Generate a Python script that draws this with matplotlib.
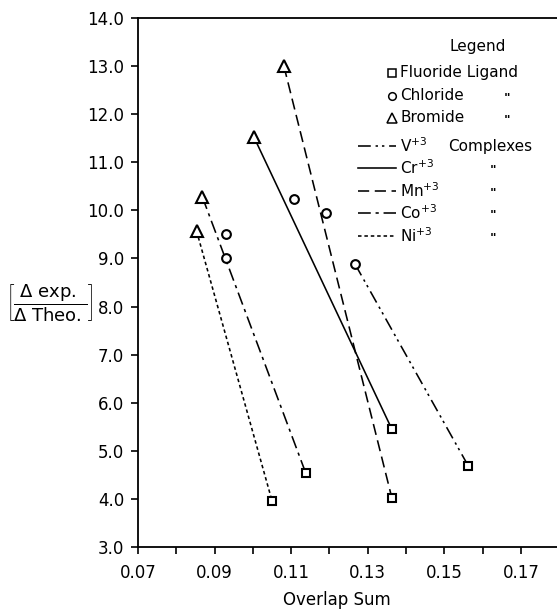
import matplotlib
matplotlib.use("Agg")
import matplotlib.pyplot as plt
from matplotlib.lines import Line2D

plt.rcParams['font.family'] = ['DejaVu Sans']
plt.rcParams['mathtext.fontset'] = 'custom'
plt.rcParams['mathtext.rm'] = 'DejaVu Sans'
plt.rcParams['mathtext.it'] = 'DejaVu Sans'

# ---- data ----
metals = ['V', 'Cr', 'Mn', 'Co', 'Ni']
fluoride_x = [0.1563, 0.1363, 0.1363, 0.1138, 0.1050]
fluoride_y = [4.68, 5.45, 4.02, 4.54, 3.96]
chloride_x = [0.1267, 0.1107, 0.1192, 0.0931, 0.0931]
chloride_y = [8.88, 10.23, 9.94, 9.01, 9.51]
bromide_x = [None, 0.1003, 0.1081, 0.0868, 0.0853]
bromide_y = [None, 11.52, 13.00, 10.28, 9.57]
x_ticks = [0.07, 0.09, 0.11, 0.13, 0.15, 0.17]
x_minor = [0.08, 0.10, 0.12, 0.14, 0.16]
y_ticks = [3.0, 4.0, 5.0, 6.0, 7.0, 8.0, 9.0, 10.0, 11.0, 12.0, 13.0, 14.0]

styles = {
    'V': (0, (8, 3, 1.5, 2.5, 1.5, 3)),
    'Cr': '-',
    'Mn': (0, (7, 3.5)),
    'Co': (0, (8, 3, 2, 3)),
    'Ni': (0, (2.2, 1.8)),
}

fig = plt.figure(figsize=(5.57, 6.10), dpi=100)
ax = fig.add_axes([138/557, 1-547/610, 1-138/557, 529/610])

lw = 1.15
for i, m in enumerate(metals):
    if bromide_x[i] is not None:
        sx, sy = bromide_x[i], bromide_y[i]
    else:
        sx, sy = chloride_x[i], chloride_y[i]
    ax.plot([sx, fluoride_x[i]], [sy, fluoride_y[i]], color='black', lw=lw,
            linestyle=styles[m], zorder=2)

mk = dict(color='black', markerfacecolor='white', markeredgewidth=1.5, linestyle='none', zorder=3)
ax.plot(fluoride_x, fluoride_y, marker='s', markersize=6.2, **mk)
ax.plot(chloride_x, chloride_y, marker='o', markersize=6.3, **mk)
bx = [v for v in bromide_x if v is not None]
by = [v for v in bromide_y if v is not None]
ax.plot(bx, by, marker='^', markersize=8, **mk)

ax.set_xlim(0.07, 0.07 + 419/3829)
ax.set_ylim(3.0, 14.0)
ax.set_xticks(x_ticks)
ax.set_xticklabels([f"{v:.2f}" for v in x_ticks])
ax.set_xticks(x_minor, minor=True)
ax.set_yticks(y_ticks)
ax.set_yticklabels([f"{v:.1f}" for v in y_ticks])
ax.tick_params(axis='both', which='both', direction='out', length=5, width=1.2,
               labelsize=12, pad=5, colors='black')
ax.tick_params(axis='x', pad=7)
ax.spines['right'].set_visible(False)
for s in ['left', 'bottom', 'top']:
    ax.spines[s].set_linewidth(1.3)

fig.text(337/557, 1-600/610, 'Overlap Sum', ha='center', va='center', fontsize=12)
fig.text(50/557, 1-302/610,
         r'$\left[\dfrac{\Delta\ \mathrm{exp.}}{\Delta\ \mathrm{Theo.}}\right]$',
         ha='center', va='center', fontsize=13)

# ---- legend (custom, in pixel coordinates) ----
def px(x, y):
    return (x/557, 1-y/610)

tf = fig.transFigure
fs = 11
fig.text(*px(478, 46), 'Legend', ha='center', va='center', fontsize=fs, transform=tf)

marker_items = [('s', 'Fluoride Ligand', 73, None, 5.5),
                ('o', 'Chloride', 96, 507, 5.5),
                ('^', 'Bromide', 118, 507, 6.5)]
for mkr, label, y, dx, ms in marker_items:
    fig.lines.append(Line2D([392/557], [1-y/610], marker=mkr, markersize=ms,
                            markerfacecolor='white', markeredgecolor='black',
                            markeredgewidth=1.1, linestyle='none', transform=tf))
    fig.text(*px(400, y), label, ha='left', va='center', fontsize=fs, transform=tf)
    if dx is not None:
        fig.text(*px(dx, y + 2), '"', ha='center', va='center', fontsize=9,
                 fontweight='bold', transform=tf)

line_items = [('V', 146, 'Complexes'), ('Cr', 168, '"'), ('Mn', 191, '"'),
              ('Co', 213, '"'), ('Ni', 236, '"')]
for m, y, tail in line_items:
    fig.lines.append(Line2D([358/557, 396/557], [1-y/610, 1-y/610], color='black',
                            lw=lw, linestyle=styles[m], transform=tf))
    fig.text(*px(400, y), m + r'$^{+3}$', ha='left', va='center', fontsize=fs, transform=tf)
    if tail == 'Complexes':
        fig.text(*px(448, y), tail, ha='left', va='center', fontsize=fs, transform=tf)
    else:
        fig.text(*px(493, y + 2), tail, ha='center', va='center', fontsize=9,
                 fontweight='bold', transform=tf)

fig.savefig('out.png', dpi=100)
